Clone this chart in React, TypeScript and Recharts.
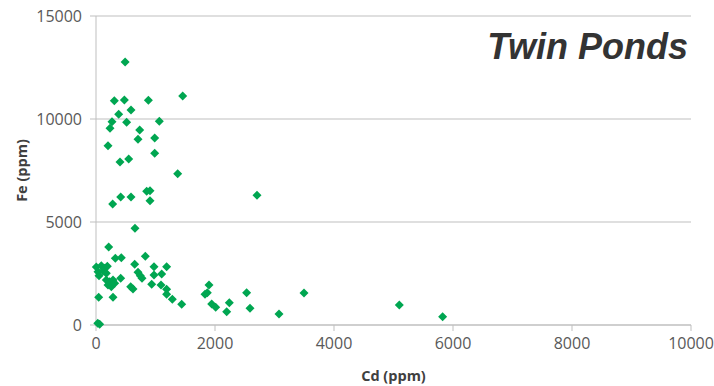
import { ScatterChart, Scatter, XAxis, YAxis, CartesianGrid, Label } from "recharts";

// Cd (ppm) readings
const cdValues = [
  490, 308, 477, 880, 1457, 381, 588, 269, 515, 1064, 235, 734, 706, 986, 202, 986, 403, 549, 1373,
  280, 415, 588, 852, 908, 908, 2706, 655, 213, 325, 425, 829, 650,
  5, 89, 146, 190, 34, 118, 50, 173,
  706, 745, 773, 975, 1187, 975, 1104, 936, 1092, 1187, 1187, 1283, 1440, 583, 622,
  173, 230, 286, 202, 257, 314, 415, 45, 286, 62, 30,
  1899, 1871, 1832, 1944, 2012, 2241, 2196, 2532, 2588, 3076, 3496, 5098, 5826,
];

// Fe (ppm) readings, same order
const feValues = [
  12770, 10890, 10920, 10910, 11117, 10227, 10437, 9870, 9840, 9887, 9547, 9466, 9013, 9078, 8705, 8333, 7913, 8058, 7346,
  5874, 6214, 6214, 6490, 6521, 6035, 6294, 4693, 3786, 3236, 3267, 3335, 2947,
  2816, 2879, 2752, 2850, 2587, 2621, 2393, 2510,
  2558, 2393, 2267, 2830, 2830, 2427, 2475, 1975, 1942, 1733, 1490, 1247, 1005, 1860, 1748,
  2184, 2102, 2184, 1942, 1860, 2024, 2267, 1344, 1344, 34, 90,
  1942, 1568, 1490, 1019, 859, 1083, 646, 1568, 810, 534, 1553, 971, 403,
];

const xTicks = [0, 2000, 4000, 6000, 8000, 10000];
const yTicks = [0, 5000, 10000, 15000];

const data = cdValues.map((cd, i) => ({ cd, fe: feValues[i] }));

const Diamond = (props: any) => {
  const { cx, cy } = props;
  const r = 4.5;
  return (
    <polygon
      points={`${cx},${cy - r} ${cx + r},${cy} ${cx},${cy + r} ${cx - r},${cy}`}
      fill='#00a651'
    />
  );
};

const tickStyle = { fill: "#595959", fontSize: 16, fontFamily: "Open Sans" };
const labelStyle = { fill: "#404040", fontSize: 14.5, fontWeight: "bold", fontFamily: "Open Sans" };

const App = () => {
  return (
    <div style={{ position: "absolute", left: 0, top: 0, width: 714, height: 386 }}>
      <ScatterChart
        width={714}
        height={386}
        margin={{ top: 16, right: 23, bottom: 31, left: 36 }}>
        <CartesianGrid vertical={false} stroke='#bfbfbf' />
        <XAxis
          type='number'
          dataKey='cd'
          domain={[0, 10000]}
          ticks={xTicks}
          height={30}
          stroke='#bfbfbf'
          tickSize={6}
          tickMargin={7}
          tick={tickStyle}
          interval={0}>
          <Label value='Cd (ppm)' position='insideBottom' offset={-26} style={labelStyle} />
        </XAxis>
        <YAxis
          type='number'
          dataKey='fe'
          domain={[0, 15000]}
          ticks={yTicks}
          width={60}
          stroke='#bfbfbf'
          tickSize={6}
          tickMargin={8}
          tick={tickStyle}
          interval={0}>
          <Label
            value='Fe (ppm)'
            angle={-90}
            position='insideLeft'
            offset={-14}
            style={{ ...labelStyle, textAnchor: "middle" }}
          />
        </YAxis>
        <Scatter data={data} shape={<Diamond />} isAnimationActive={false} />
      </ScatterChart>
      <div
        style={{
          position: "absolute",
          right: 26,
          top: 26,
          fontFamily: "Liberation Sans",
          fontWeight: "bold",
          fontStyle: "italic",
          fontSize: 36,
          color: "#333333",
          whiteSpace: "nowrap",
        }}>
        Twin Ponds
      </div>
    </div>
  );
};

export default App;
